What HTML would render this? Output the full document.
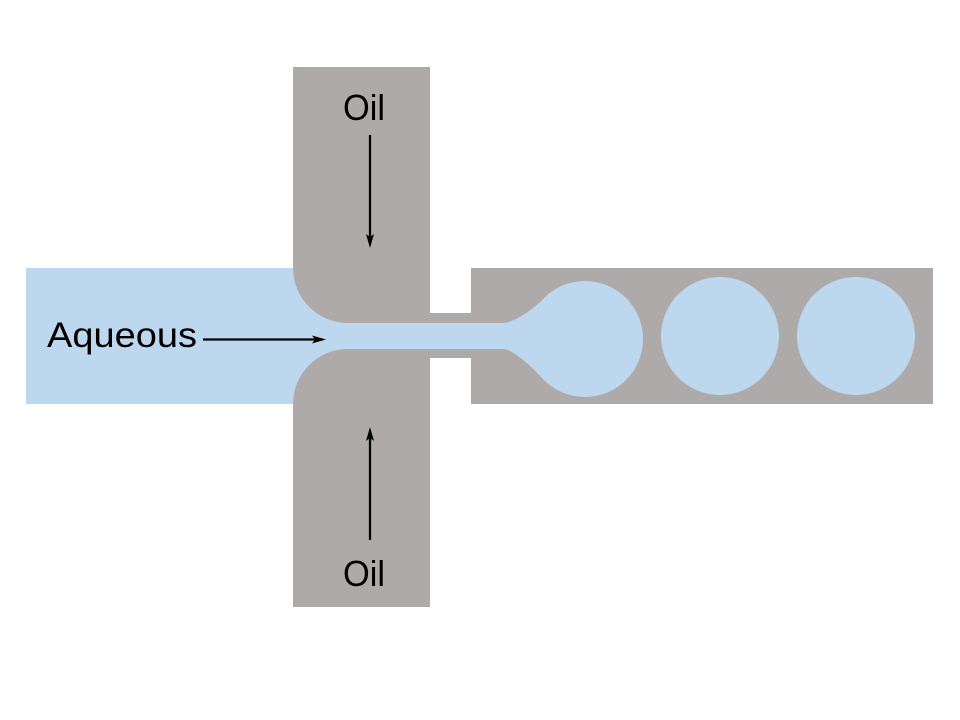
<!DOCTYPE html>
<html>
<head>
<meta charset="utf-8">
<style>
  html, body { margin: 0; padding: 0; background: #ffffff; }
  body { width: 960px; height: 720px; overflow: hidden; }
  svg { display: block; }
  text { font-family: "Liberation Sans", Arial, sans-serif; fill: #000; }
</style>
</head>
<body>
<svg width="960" height="720" viewBox="0 0 960 720" xmlns="http://www.w3.org/2000/svg">
  <rect x="0" y="0" width="960" height="720" fill="#ffffff"/>

  <!-- Aqueous inlet (blue) -->
  <rect x="26" y="268" width="330" height="136" fill="#BDD7EE"/>

  <!-- narrow connector channel (gray walls) -->
  <rect x="428" y="313" width="45" height="45" fill="#AEAAAA"/>

  <!-- right outlet channel -->
  <rect x="471" y="268" width="462" height="136" fill="#AEAAAA"/>

  <!-- blue thin stream -->
  <rect x="340" y="323" width="165" height="26" fill="#BDD7EE"/>

  <!-- droplet forming -->
  <path d="M 480,323 L 503,323 C 513,323 533,310 543,299 A 58 58 0 1 1 543,379 C 533,368 513,349 503,349 L 480,349 Z" fill="#BDD7EE"/>

  <!-- droplets -->
  <circle cx="720" cy="336" r="59" fill="#BDD7EE"/>
  <circle cx="856" cy="336" r="59" fill="#BDD7EE"/>

  <!-- top oil block -->
  <path d="M 293,67 L 430,67 L 430,323 L 348,323 A 55 55 0 0 1 293,268 Z" fill="#AEAAAA"/>
  <!-- bottom oil block -->
  <path d="M 293,607 L 430,607 L 430,349 L 348,349 A 55 55 0 0 0 293,404 Z" fill="#AEAAAA"/>

  <!-- labels -->
  <text x="343" y="120" font-size="36" textLength="42" lengthAdjust="spacingAndGlyphs">Oil</text>
  <text x="343" y="586" font-size="36" textLength="42" lengthAdjust="spacingAndGlyphs">Oil</text>
  <text x="47" y="347" font-size="35" textLength="150" lengthAdjust="spacingAndGlyphs">Aqueous</text>

  <!-- top arrow (down) -->
  <line x1="370" y1="135" x2="370" y2="240" stroke="#000" stroke-width="2.25"/>
  <polygon points="370,248 366,234 370,237 374,234" fill="#000"/>

  <!-- bottom arrow (up) -->
  <line x1="370" y1="540" x2="370" y2="436" stroke="#000" stroke-width="2.25"/>
  <polygon points="370,427 366,441 370,438 374,441" fill="#000"/>

  <!-- aqueous arrow (right) -->
  <line x1="203" y1="339.5" x2="318" y2="339.5" stroke="#000" stroke-width="2.25"/>
  <polygon points="326,339.5 312,335.5 315,339.5 312,343.5" fill="#000"/>
</svg>
</body>
</html>
